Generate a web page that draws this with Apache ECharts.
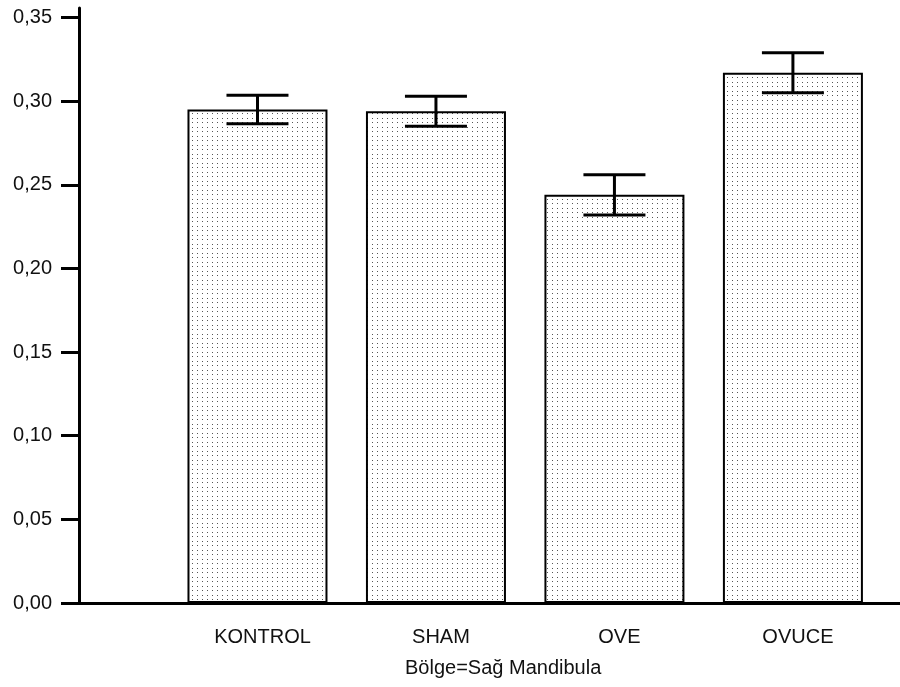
<!DOCTYPE html>
<html>
<head>
<meta charset="utf-8">
<script src="https://cdn.jsdelivr.net/npm/echarts@6/dist/echarts.min.js"></script>
<style>
  html, body { margin: 0; padding: 0; background: #fff; }
  #chart { width: 900px; height: 687px; }
</style>
</head>
<body>
<div id="chart"></div>
<script>
// Groups along the x axis
const categories = ['KONTROL', 'SHAM', 'OVE', 'OVUCE'];
// Group means and their error half-widths
const means = [0.295, 0.294, 0.244, 0.317];
const errors = [0.0085, 0.009, 0.012, 0.012];
// Y axis ticks
const yTicks = [0, 0.05, 0.10, 0.15, 0.20, 0.25, 0.30, 0.35];
const xTitle = 'Bölge=Sağ Mandibula';

const FONT = '"Liberation Sans", Arial, sans-serif';

// Each group sits at slot 1..n on a numeric x scale, the origin being slot 0
const slots = categories.map((c, i) => i + 1);
const X_MAX = 4.6;

// Stipple fill for the bars
function makeStipple() {
  const c = document.createElement('canvas');
  c.width = 5; c.height = 9;
  const ctx = c.getContext('2d');
  ctx.fillStyle = '#fff';
  ctx.fillRect(0, 0, 5, 9);
  ctx.fillStyle = '#555';
  ctx.fillRect(2, 1, 1, 1);
  ctx.fillRect(2, 5, 1, 1);
  return c;
}

const barData = slots.map((s, i) => [s, means[i]]);
const errData = slots.map((s, i) => [s, means[i], errors[i]]);

const chart = echarts.init(document.getElementById('chart'), null, { renderer: 'canvas' });

chart.setOption({
  animation: false,
  backgroundColor: '#fff',
  grid: { left: 79, right: 0, top: 8, bottom: 84, containLabel: false },
  xAxis: {
    type: 'value',
    min: 0,
    max: X_MAX,
    axisLine: { show: true, onZero: false, lineStyle: { color: '#000', width: 3 } },
    axisTick: { show: false },
    axisLabel: {
      customValues: slots,
      color: '#111', fontFamily: FONT, fontSize: 20, margin: 24,
      padding: [0, 0, 0, 10],
      formatter: v => categories[Math.round(v) - 1] || ''
    },
    splitLine: { show: false }
  },
  yAxis: {
    type: 'value',
    min: 0,
    max: 0.3557,
    axisLine: { show: true, lineStyle: { color: '#000', width: 3 } },
    axisTick: { show: true, length: 18, customValues: yTicks, lineStyle: { color: '#000', width: 3 } },
    axisLabel: {
      customValues: yTicks,
      color: '#111', fontFamily: FONT, fontSize: 20, margin: 27,
      formatter: v => v.toFixed(2).replace('.', ',')
    },
    splitLine: { show: false }
  },
  series: [
    {
      type: 'bar',
      data: barData,
      barWidth: 140,
      itemStyle: {
        color: { image: makeStipple(), repeat: 'repeat' },
        borderColor: '#000',
        borderWidth: 2
      },
      z: 2
    },
    {
      type: 'custom',
      data: errData,
      z: 5,
      renderItem: function (params, api) {
        const x = api.value(0);
        const m = api.value(1);
        const e = api.value(2);
        const top = api.coord([x, m + e]);
        const bot = api.coord([x, m - e]);
        const half = 31;
        const style = { stroke: '#000', lineWidth: 3 };
        return {
          type: 'group',
          children: [
            { type: 'line', shape: { x1: top[0], y1: top[1], x2: bot[0], y2: bot[1] }, style: style },
            { type: 'line', shape: { x1: top[0] - half, y1: top[1], x2: top[0] + half, y2: top[1] }, style: style },
            { type: 'line', shape: { x1: bot[0] - half, y1: bot[1], x2: bot[0] + half, y2: bot[1] }, style: style }
          ]
        };
      }
    }
  ],
  graphic: [
    {
      type: 'text',
      left: 405,
      top: 658,
      style: { text: xTitle, fill: '#111', font: '20px ' + FONT }
    }
  ]
});
</script>
</body>
</html>
